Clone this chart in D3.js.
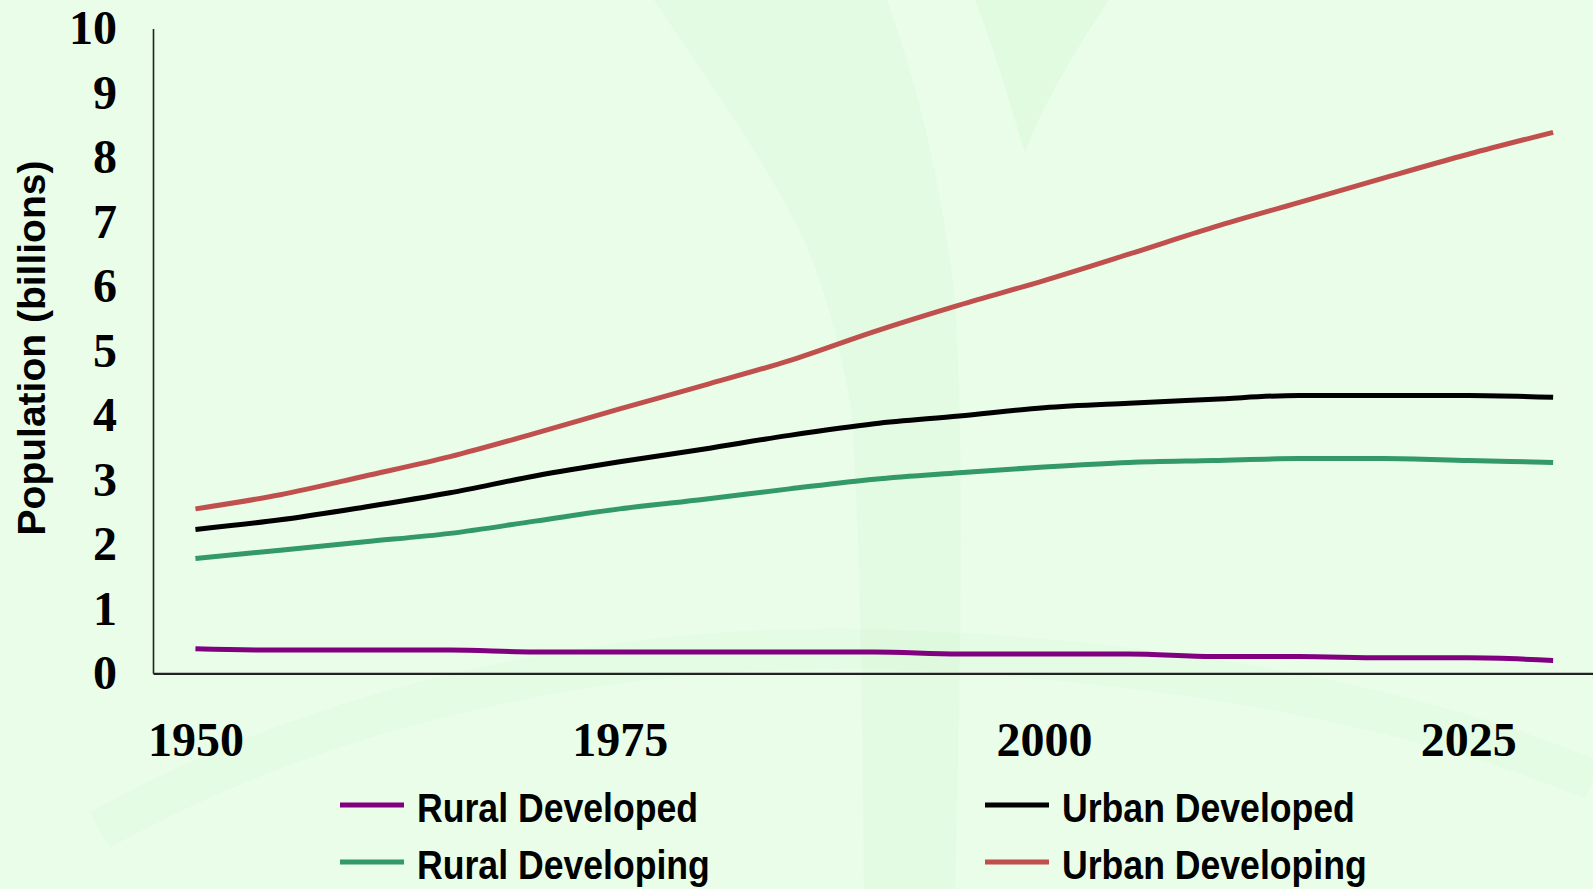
<!DOCTYPE html>
<html>
<head>
<meta charset="utf-8">
<script src="https://cdn.jsdelivr.net/npm/d3@7"></script>
<style>
  html, body { margin: 0; padding: 0; background: #e9fde9; }
  svg { display: block; }
</style>
</head>
<body>
<div id="chart"></div>
<script>
const years = [1950, 1955, 1960, 1965, 1970, 1975, 1980, 1985, 1990, 1995, 2000, 2005, 2010, 2015, 2020, 2025, 2030];

const ruralDeveloped  = [0.38, 0.36, 0.36, 0.36, 0.33, 0.33, 0.33, 0.33, 0.33, 0.30, 0.30, 0.30, 0.26, 0.26, 0.24, 0.24, 0.20];
const urbanDeveloped  = [2.23, 2.38, 2.58, 2.80, 3.06, 3.28, 3.48, 3.69, 3.87, 3.99, 4.12, 4.19, 4.25, 4.31, 4.31, 4.31, 4.28];
const ruralDeveloping = [1.78, 1.91, 2.04, 2.17, 2.36, 2.55, 2.70, 2.86, 3.01, 3.11, 3.20, 3.27, 3.30, 3.33, 3.33, 3.30, 3.27];
const urbanDeveloping = [2.55, 2.77, 3.06, 3.36, 3.72, 4.10, 4.47, 4.85, 5.30, 5.71, 6.09, 6.50, 6.92, 7.30, 7.68, 8.05, 8.39];

const seriesNames  = ["Rural Developed", "Urban Developed", "Rural Developing", "Urban Developing"];
const seriesColors = ["#800080", "#000000", "#339966", "#c0504d"];

const yTicks = [0, 1, 2, 3, 4, 5, 6, 7, 8, 9, 10];
const xTicks = [1950, 1975, 2000, 2025];

const width = 1593;
const height = 889;

const svg = d3.select("#chart")
  .append("svg")
  .attr("width", width)
  .attr("height", height);

svg.append("rect")
  .attr("width", width)
  .attr("height", height)
  .attr("fill", "#e9fde9");

// faint background artwork
const bg = svg.append("g");
bg.append("path")
  .attr("d", "M654,0 L887,0 C915,80 940,170 955,300 C965,450 960,700 955,889 L864,889 C862,700 860,500 850,400 C835,320 815,260 799,230 C760,150 700,70 654,0 Z")
  .attr("fill", "#dcfadc")
  .attr("opacity", 0.55);
bg.append("path")
  .attr("d", "M975,0 L1109,0 C1075,50 1040,110 1025,153 C1010,105 995,50 975,0 Z")
  .attr("fill", "#dcfadc")
  .attr("opacity", 0.6);
bg.append("path")
  .attr("d", "M100,830 C350,690 650,640 900,650 C1150,660 1400,700 1593,780")
  .attr("fill", "none")
  .attr("stroke", "#dcf8dc")
  .attr("stroke-width", 40)
  .attr("opacity", 0.4);

const x = d3.scaleLinear()
  .domain([1947.5, 2032.35])
  .range([153, 1593]);

const y = d3.scaleLinear()
  .domain([0, 10])
  .range([673.3, 28.5]);

// axes
const yAxis = svg.append("g")
  .attr("transform", "translate(153,0)")
  .call(d3.axisLeft(y).tickValues(yTicks).tickSize(0).tickPadding(36));
yAxis.select(".domain").attr("stroke", "#222").attr("stroke-width", 1.6);
yAxis.selectAll("text")
  .attr("font-family", "'Liberation Serif', 'Times New Roman', serif")
  .attr("font-weight", "bold")
  .attr("font-size", 48)
  .attr("fill", "#000");

const xAxis = svg.append("g")
  .attr("transform", "translate(0,673.3)")
  .call(d3.axisBottom(x).tickValues(xTicks).tickFormat(d3.format("d")).tickSize(0).tickPadding(49));
xAxis.select(".domain").attr("stroke", "#222").attr("stroke-width", 2.2);
xAxis.selectAll("text")
  .attr("font-family", "'Liberation Serif', 'Times New Roman', serif")
  .attr("font-weight", "bold")
  .attr("font-size", 48)
  .attr("fill", "#000");

svg.append("text")
  .attr("transform", "translate(31,348) rotate(-90)")
  .attr("text-anchor", "middle")
  .attr("dy", "0.35em")
  .attr("font-family", "'Liberation Sans', Arial, sans-serif")
  .attr("font-weight", "bold")
  .attr("font-size", 39)
  .text("Population (billions)");

// lines
const seriesValues = [ruralDeveloped, urbanDeveloped, ruralDeveloping, urbanDeveloping];

const line = d3.line()
  .x(function(d) { return x(d.year); })
  .y(function(d) { return y(d.value); })
  .curve(d3.curveMonotoneX);

// draw order: rural developed, rural developing, urban developed, urban developing
[0, 2, 1, 3].forEach(function(i) {
  const pts = years.map(function(yr, j) { return { year: yr, value: seriesValues[i][j] }; });
  svg.append("path")
    .datum(pts)
    .attr("fill", "none")
    .attr("stroke", seriesColors[i])
    .attr("stroke-width", 5)
    .attr("stroke-linejoin", "round")
    .attr("d", line);
});

// legend
const legendPos = [
  { lx: 340, ly: 805 },
  { lx: 985, ly: 805 },
  { lx: 340, ly: 862 },
  { lx: 985, ly: 862 }
];
const legend = svg.append("g");
seriesNames.forEach(function(name, i) {
  const p = legendPos[i];
  legend.append("line")
    .attr("x1", p.lx).attr("x2", p.lx + 64)
    .attr("y1", p.ly).attr("y2", p.ly)
    .attr("stroke", seriesColors[i])
    .attr("stroke-width", 5);
  legend.append("text")
    .attr("class", "legtext")
    .attr("x", p.lx + 77)
    .attr("y", p.ly + 17)
    .attr("font-family", "'Liberation Sans Narrow', 'Arial Narrow', 'Liberation Sans', sans-serif")
    .attr("font-weight", "bold")
    .attr("font-size", 40)
    .text(name);
});

// squeeze legend text to the width seen in the original
const first = legend.select(".legtext").node();
const factor = 281 / first.getComputedTextLength();
legend.selectAll(".legtext").each(function() {
  const len = this.getComputedTextLength();
  d3.select(this)
    .attr("textLength", len * factor)
    .attr("lengthAdjust", "spacingAndGlyphs");
});
</script>
</body>
</html>
